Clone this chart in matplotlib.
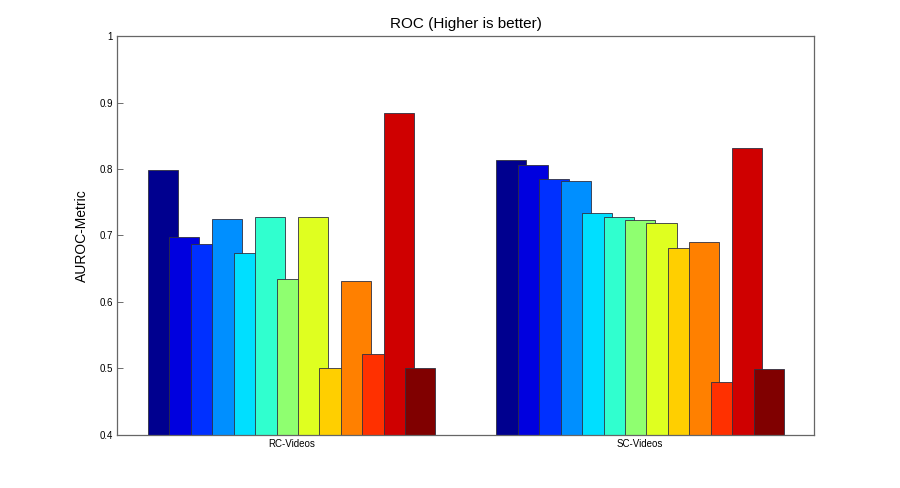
import numpy as np
import matplotlib
matplotlib.use("Agg")
import matplotlib.pyplot as plt

groups = ["RC-Videos", "SC-Videos"]
rc_scores = [0.798, 0.697, 0.687, 0.725, 0.674, 0.728, 0.635, 0.728, 0.500, 0.632, 0.521, 0.884, 0.500]
sc_scores = [0.813, 0.806, 0.785, 0.782, 0.734, 0.728, 0.723, 0.719, 0.681, 0.690, 0.479, 0.832, 0.499]
y_ticks = [0.4, 0.5, 0.6, 0.7, 0.8, 0.9, 1]


def matlab_jet(m=64):
    # same construction as matlab's jet(m)
    n = int(np.ceil(m / 4))
    u = np.concatenate([np.arange(1, n + 1) / n, np.ones(n - 1), np.arange(n, 0, -1) / n])
    g = int(np.ceil(n / 2)) - (1 if m % 4 == 1 else 0) + np.arange(1, len(u) + 1)
    r = g + n
    b = g - n
    cmap = np.zeros((m, 3))
    for idx, col in ((r, 0), (g, 1), (b, 2)):
        keep = (idx >= 1) & (idx <= m)
        cmap[idx[keep] - 1, col] = u[keep]
    return cmap


plt.rcParams["font.family"] = ["Liberation Sans", "DejaVu Sans"]

scores = np.array([rc_scores, sc_scores])  # (groups, series)
n_series = scores.shape[1]
jet64 = matlab_jet(64)
colors = jet64[np.round(np.linspace(0, 63, n_series)).astype(int)]

# matlab-style grouped bars: group width 0.8, bars 1.4x their slot (overlapping)
slot = 0.8 / n_series
width = slot * 1.4
x = np.arange(1, len(groups) + 1)

fig = plt.figure(figsize=(9, 4.88), dpi=100)
ax = fig.add_axes([0.1303, 0.109, 0.7745, 0.817])

for i in range(n_series):
    offset = (i - (n_series - 1) / 2) * slot
    ax.bar(x + offset, scores[:, i], width=width, bottom=0,
           color=colors[i], edgecolor="#303040", linewidth=0.6, zorder=2 + i)

ax.set_xlim(0.5, 2.5)
ax.set_ylim(0.4, 1.0)
ax.set_yticks(y_ticks)
ax.set_yticklabels(["0.4", "0.5", "0.6", "0.7", "0.8", "0.9", "1"])
ax.set_xticks(x)
ax.set_xticklabels(groups)
ax.tick_params(axis="both", direction="in", labelsize=7, length=4, width=0.6,
               color="#555555", pad=3)
ax.tick_params(axis="x", length=0)
for s in ax.spines.values():
    s.set_color("#666666")
    s.set_linewidth(0.9)
    s.set_zorder(100)

ax.set_ylabel("AUROC-Metric", fontsize=10, labelpad=8)
ax.set_title("ROC (Higher is better)", fontsize=11, pad=6)

fig.savefig("out.png", dpi=100)
